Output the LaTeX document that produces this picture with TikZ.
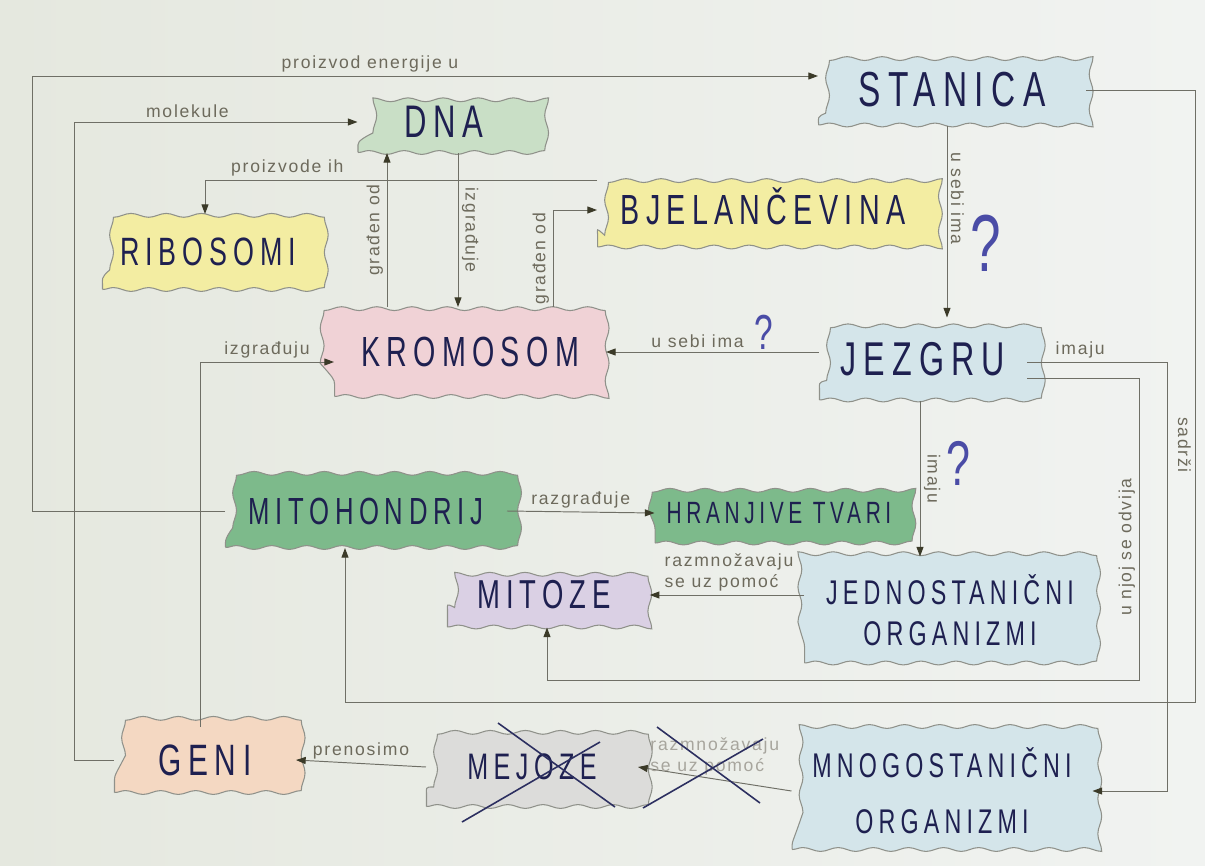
\documentclass[tikz,border=0pt]{standalone}
\usepackage{fontspec}
\setmainfont{Liberation Sans}
\newfontfamily\hand[FakeStretch=0.68,LetterSpace=15]{Liberation Sans}
\newfontfamily\note[LetterSpace=10]{Liberation Sans}
\usetikzlibrary{arrows.meta,decorations.pathmorphing}

\definecolor{paperl}{HTML}{E5E8DF}
\definecolor{paperr}{HTML}{F1F3F1}
\definecolor{ink}{HTML}{1E2050}
\definecolor{boxline}{HTML}{8F918A}
\definecolor{wire}{HTML}{6F6F66}
\definecolor{tip}{HTML}{3B3A28}
\definecolor{pencil}{HTML}{6D6A5C}
\definecolor{qblue}{HTML}{4A4CA6}
\definecolor{xblue}{HTML}{2C2F60}
\definecolor{cblue}{HTML}{D4E5EA}
\definecolor{cdna}{HTML}{C9DFC6}
\definecolor{cyel}{HTML}{F3EDA2}
\definecolor{cpink}{HTML}{F0D2D6}
\definecolor{cgreen}{HTML}{7DBA8B}
\definecolor{clila}{HTML}{DAD0E4}
\definecolor{cpeach}{HTML}{F4D8C2}
\definecolor{cgrey}{HTML}{DCDCDA}

\begin{document}
\begin{tikzpicture}[x=0.02cm, y=-0.02cm,
        box/.style={draw=boxline, line width=0.6pt, inner sep=0pt, text=ink, align=center,
            decorate, decoration={snake, amplitude=1.1pt, segment length=20pt}},
        con/.style={draw=wire, line width=0.55pt, -{Triangle[length=5.5pt,width=4pt,color=tip]}},
        lab/.style={font=\note\fontsize{10}{12}\selectfont, text=pencil, inner sep=2pt},
        ask/.style={text=qblue},
        cross/.style={draw=xblue, line width=0.9pt}]
    \useasboundingbox (0,0) rectangle (1205,866);
    \shade[left color=paperl, right color=paperr] (0,0) rectangle (1205,866);

    % pojmovi
    \node[box, fill=cblue, minimum width=5.34cm, minimum height=1.40cm, font=\hand\fontsize{28}{28}\selectfont] (stanica) at (952,90) {STANICA};
    \node[box, fill=cdna, minimum width=3.44cm, minimum height=1.22cm, font=\hand\fontsize{26}{26}\selectfont] (dna) at (444,122) {DNA};
    \node[box, fill=cyel, minimum width=6.62cm, minimum height=1.64cm, font=\hand\fontsize{24}{24}\selectfont] (bjel) at (763,206) {BJELANČEVINA};
    \node[box, fill=cyel, minimum width=4.22cm, minimum height=1.50cm, font=\hand\fontsize{22.5}{22.5}\selectfont] (ribo) at (208,252) {RIBOSOMI};
    \node[box, fill=cpink, minimum width=5.42cm, minimum height=1.78cm, font=\hand\fontsize{24}{24}\selectfont] (kromo) at (470,352) {KROMOSOM};
    \node[box, fill=cblue, minimum width=4.14cm, minimum height=1.64cm, font=\hand\fontsize{27}{27}\selectfont] (jezgru) at (923,359) {JEZGRU};
    \node[box, fill=cgreen, minimum width=5.62cm, minimum height=1.46cm, font=\hand\fontsize{21.5}{21.5}\selectfont] (mito) at (366,511) {MITOHONDRIJ};
    \node[box, fill=cgreen, minimum width=4.96cm, minimum height=1.20cm, font=\hand\fontsize{17.5}{17.5}\selectfont] (hranj) at (779,513) {HRANJIVE TVARI};
    \node[box, fill=clila, minimum width=3.86cm, minimum height=1.28cm, font=\hand\fontsize{23}{23}\selectfont] (mitoze) at (544,595) {MITOZE};
    \node[box, fill=cblue, minimum width=5.82cm, minimum height=2.12cm, font=\hand\fontsize{19.5}{23}\selectfont] (jedno) at (950,610) {JEDNOSTANIČNI\\ORGANIZMI};
    \node[box, fill=cpeach, minimum width=3.62cm, minimum height=1.30cm, font=\hand\fontsize{25}{25}\selectfont] (geni) at (205,760) {GENI};
    \node[box, fill=cgrey, minimum width=4.22cm, minimum height=1.58cm, font=\hand\fontsize{21}{21}\selectfont] (mejoze) at (532,767) {MEJOZE};
    \node[box, fill=cblue, minimum width=6.00cm, minimum height=2.34cm, font=\hand\fontsize{19.5}{32}\selectfont] (mnogo) at (942,791) {MNOGOSTANIČNI\\ORGANIZMI};

    % tocke loma
    \coordinate (eo) at (32,76);
    \coordinate (mo) at (74,122);
    \coordinate (pi) at (205,180);
    \coordinate (g1) at (387,0);
    \coordinate (g2) at (458,0);
    \coordinate (g3) at (553,210);
    \coordinate (s1) at (947,0);
    \coordinate (s2) at (920,0);
    \coordinate (iz) at (200,362);
    \coordinate (im) at (1167,362);
    \coordinate (uo) at (1139,378);
    \coordinate (ub) at (547,680);
    \coordinate (sa) at (1195,90);
    \coordinate (sb) at (345,702);

    % veze
    \draw[con] (mito.west) -| (eo) -- (eo -| stanica.west) node[lab, above, pos=0.43] {proizvod energije u};
    \draw[con] (geni.west) -| (mo) -- (dna.west) node[lab, above, pos=0.4] {molekule};
    \draw[con] (pi -| bjel.west) -- node[lab, above, pos=0.79] {proizvode ih} (pi) -- (pi |- ribo.north);
    \draw[con] (kromo.north -| g1) -- (dna.south -| g1) node[lab, midway, rotate=90, anchor=south] {građen od};
    \draw[con] (dna.south -| g2) -- (kromo.north -| g2) node[lab, midway, rotate=-90, anchor=south] {izgrađuje};
    \draw[con] (kromo.north -| g3) -- node[lab, rotate=90, anchor=south] {građen od} (g3) -- (g3 -| bjel.west);
    \draw[con] (stanica.south -| s1) -- (jezgru.north -| s1) node[lab, pos=0.38, rotate=-90, anchor=south] {u sebi ima};
    \draw[con] (kromo.east -| jezgru.west) -- (kromo.east) node[lab, pos=0.57, above] {u sebi ima};
    \draw[con] (jezgru.south -| s2) -- (jedno.north -| s2) node[lab, midway, rotate=-90, anchor=south] {imaju};
    \draw[con] (im -| jezgru.east) -- node[lab, above, pos=0.38] {imaju} (im) |- (mnogo.east);
    \draw[con] (uo -| jezgru.east) -- (uo) |- node[lab, pos=0.28, rotate=90, anchor=south] {u njoj se odvija} (ub) -- (ub |- mitoze.south);
    \draw[con] (stanica.east) -- (sa) |- node[lab, pos=0.29, rotate=-90, anchor=north] {sadrži} (sb) -- (sb |- mito.south);
    \draw[con] (mito.east) -- (hranj.west) node[lab, midway, above] {razgrađuje};
    \draw[con, shorten >=5pt] (mitoze.east -| jedno.west) -- (mitoze.east) node[lab, pos=0.46, above, align=left] {razmnožavaju\\se uz pomoć};
    \draw[con] (geni.north -| iz) -- (iz) -- (iz -| kromo.west) node[lab, midway, above] {izgrađuju};
    \draw[con] (mejoze.west) -- (geni.east) node[lab, midway, above] {prenosimo};
    \draw[con] (mnogo.west) -- (mejoze.east) node[lab, midway, above, align=left, text=pencil!60] {razmnožavaju\\se uz pomoć};

    % upitnici
    \node[ask, font=\hand\fontsize{46}{46}\selectfont] (q1) at (986,243) {?};
    \node[ask, font=\hand\fontsize{28}{28}\selectfont] (q2) at (764,332) {?};
    \node[ask, font=\hand\fontsize{36}{36}\selectfont] (q3) at (958,463) {?};

    % precrtano
    \draw[cross] (498,723) -- (615,807);
    \draw[cross] (462,822) -- (600,742);
    \draw[cross] (657,727) -- (760,803);
    \draw[cross] (643,808) -- (763,739);
\end{tikzpicture}
\end{document}
